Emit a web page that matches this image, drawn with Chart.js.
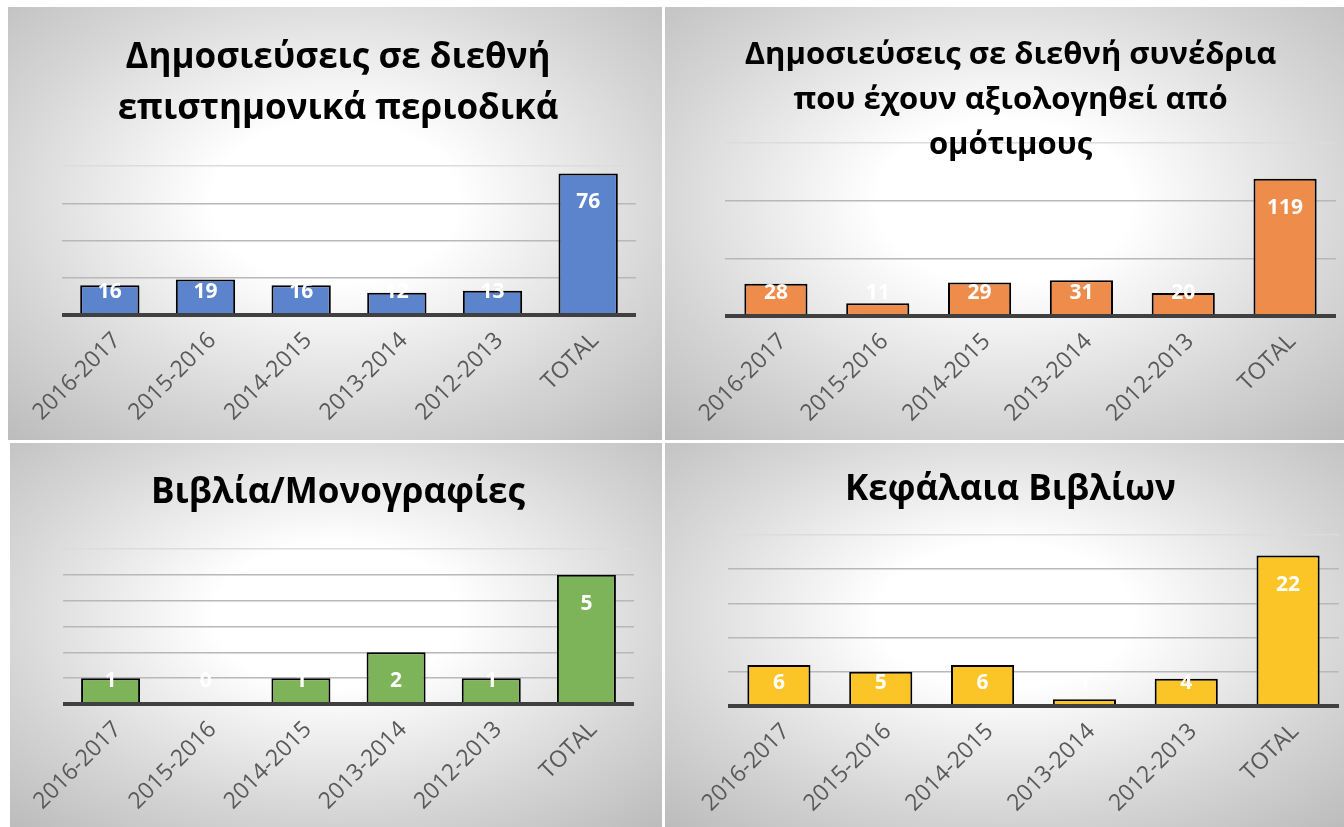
<!DOCTYPE html>
<html lang="el">
<head>
<meta charset="utf-8">
<title>Δημοσιεύσεις</title>
<script src="https://cdn.jsdelivr.net/npm/chart.js@4.4.1/dist/chart.umd.min.js"></script>
<style>
    html, body { margin: 0; padding: 0; background: #fff; }
    body { width: 1344px; height: 827px; position: relative; overflow: hidden; }
    canvas { position: absolute; }
    #c1 { left: 8px; top: 7px; }
    #c2 { left: 665px; top: 7px; }
    #c3 { left: 10px; top: 443px; }
    #c4 { left: 665px; top: 443px; }
</style>
</head>
<body>
<canvas id="c1" width="654" height="433"></canvas>
<canvas id="c2" width="679" height="433"></canvas>
<canvas id="c3" width="652" height="384"></canvas>
<canvas id="c4" width="679" height="384"></canvas>
<script>
// Κατηγορίες (ακαδημαϊκά έτη + σύνολο)
const categories = ['2016-2017', '2015-2016', '2014-2015', '2013-2014', '2012-2013', 'TOTAL'];

// Τιμές ανά γράφημα
const journals = [16, 19, 16, 12, 13, 76];
const conferences = [28, 11, 29, 31, 20, 119];
const books = [1, 0, 1, 2, 1, 5];
const chapters = [6, 5, 6, 1, 4, 22];

// Κλίμακες άξονα y (χωρίς ετικέτες)
const axisMax = [80, 150, 6, 25];
const axisStep = [20, 50, 1, 5];

const titles = [
    ['Δημοσιεύσεις σε διεθνή', 'επιστημονικά περιοδικά'],
    ['Δημοσιεύσεις σε διεθνή συνέδρια', 'που έχουν αξιολογηθεί από', 'ομότιμους'],
    ['Βιβλία/Μονογραφίες'],
    ['Κεφάλαια Βιβλίων']
];

const barColors = ['#5b84cd', '#ee8c4b', '#7db359', '#fbc527'];

// Διάταξη κάθε πλαισίου
const layouts = [
    { pl: 32, pr: 26, yW: 22, xH: 125, size: 35, lh: 51, pt: 25.5, pb: 31.5 },
    { pl: 20, pr: 8, yW: 40, xH: 124, size: 31, lh: 45, pt: 26, pb: -25 },
    { pl: 32, pr: 28, yW: 21, xH: 123, size: 35, lh: 51, pt: 25, pb: 30 },
    { pl: 17, pr: 5, yW: 46, xH: 121, size: 35, lh: 51, pt: 22, pb: 19 }
];

// Φόντο με ακτινωτή διαβάθμιση
const gradientBg = {
    id: 'gradientBg',
    beforeDraw(chart) {
        const { ctx, width, height } = chart;
        ctx.save();
        ctx.translate(width / 2, height * 0.45);
        ctx.scale(width / 2, height / 2);
        const g = ctx.createRadialGradient(0, 0, 0, 0, 0, 1.5);
        g.addColorStop(0, '#ffffff');
        g.addColorStop(0.25, '#ffffff');
        g.addColorStop(0.68, '#d6d6d6');
        g.addColorStop(1, '#bbbbbb');
        ctx.fillStyle = g;
        ctx.fillRect(-2, -2, 4, 4);
        ctx.restore();
    }
};

// Άξονας x (παχιά γραμμή) και ετικέτες τιμών
const barLabels = {
    id: 'barLabels',
    afterDatasetsDraw(chart) {
        const ctx = chart.ctx;
        const area = chart.chartArea;
        const base = chart.scales.y.getPixelForValue(0);
        ctx.save();
        ctx.strokeStyle = '#404040';
        ctx.lineWidth = 4;
        ctx.beginPath();
        ctx.moveTo(area.left, base);
        ctx.lineTo(area.right, base);
        ctx.stroke();

        ctx.font = 'bold 21px "Open Sans"';
        ctx.fillStyle = '#ffffff';
        ctx.textAlign = 'center';
        ctx.textBaseline = 'middle';
        const values = chart.data.datasets[0].data;
        chart.getDatasetMeta(0).data.forEach((bar, i) => {
            const y = Math.min(bar.y + 29, base - 23);
            ctx.fillText(String(values[i]), bar.x, y);
        });
        ctx.restore();
    }
};

function makeChart(id, idx, values) {
    const L = layouts[idx];
    return new Chart(document.getElementById(id), {
        type: 'bar',
        data: {
            labels: categories,
            datasets: [{
                data: values,
                backgroundColor: barColors[idx],
                borderColor: '#000000',
                borderWidth: 2,
                barPercentage: 0.62,
                categoryPercentage: 1
            }]
        },
        options: {
            responsive: false,
            animation: false,
            layout: { padding: { left: L.pl, right: L.pr, top: 0, bottom: 0 } },
            scales: {
                x: {
                    grid: { display: false, drawTicks: false },
                    border: { display: false },
                    ticks: {
                        minRotation: 45,
                        maxRotation: 45,
                        autoSkip: false,
                        padding: 12,
                        labelOffset: 7,
                        color: '#595959',
                        font: { family: '"Open Sans"', size: 23 }
                    },
                    afterFit(s) { s.height = L.xH; }
                },
                y: {
                    min: 0,
                    max: axisMax[idx],
                    ticks: { display: false, stepSize: axisStep[idx] },
                    border: { display: false },
                    grid: {
                        drawTicks: false,
                        lineWidth: 1.5,
                        color: c => c.tick && c.tick.value === axisMax[idx] ? '#dcdcdc' : '#b8b8b8'
                    },
                    afterFit(s) { s.width = L.yW; }
                }
            },
            plugins: {
                legend: { display: false },
                tooltip: { enabled: false },
                title: {
                    display: true,
                    text: titles[idx],
                    color: '#000000',
                    font: { family: '"Open Sans"', size: L.size, weight: 'bold', lineHeight: L.lh / L.size },
                    padding: { top: L.pt, bottom: L.pb }
                }
            }
        },
        plugins: [gradientBg, barLabels]
    });
}

makeChart('c1', 0, journals);
makeChart('c2', 1, conferences);
makeChart('c3', 2, books);
makeChart('c4', 3, chapters);
</script>
</body>
</html>
